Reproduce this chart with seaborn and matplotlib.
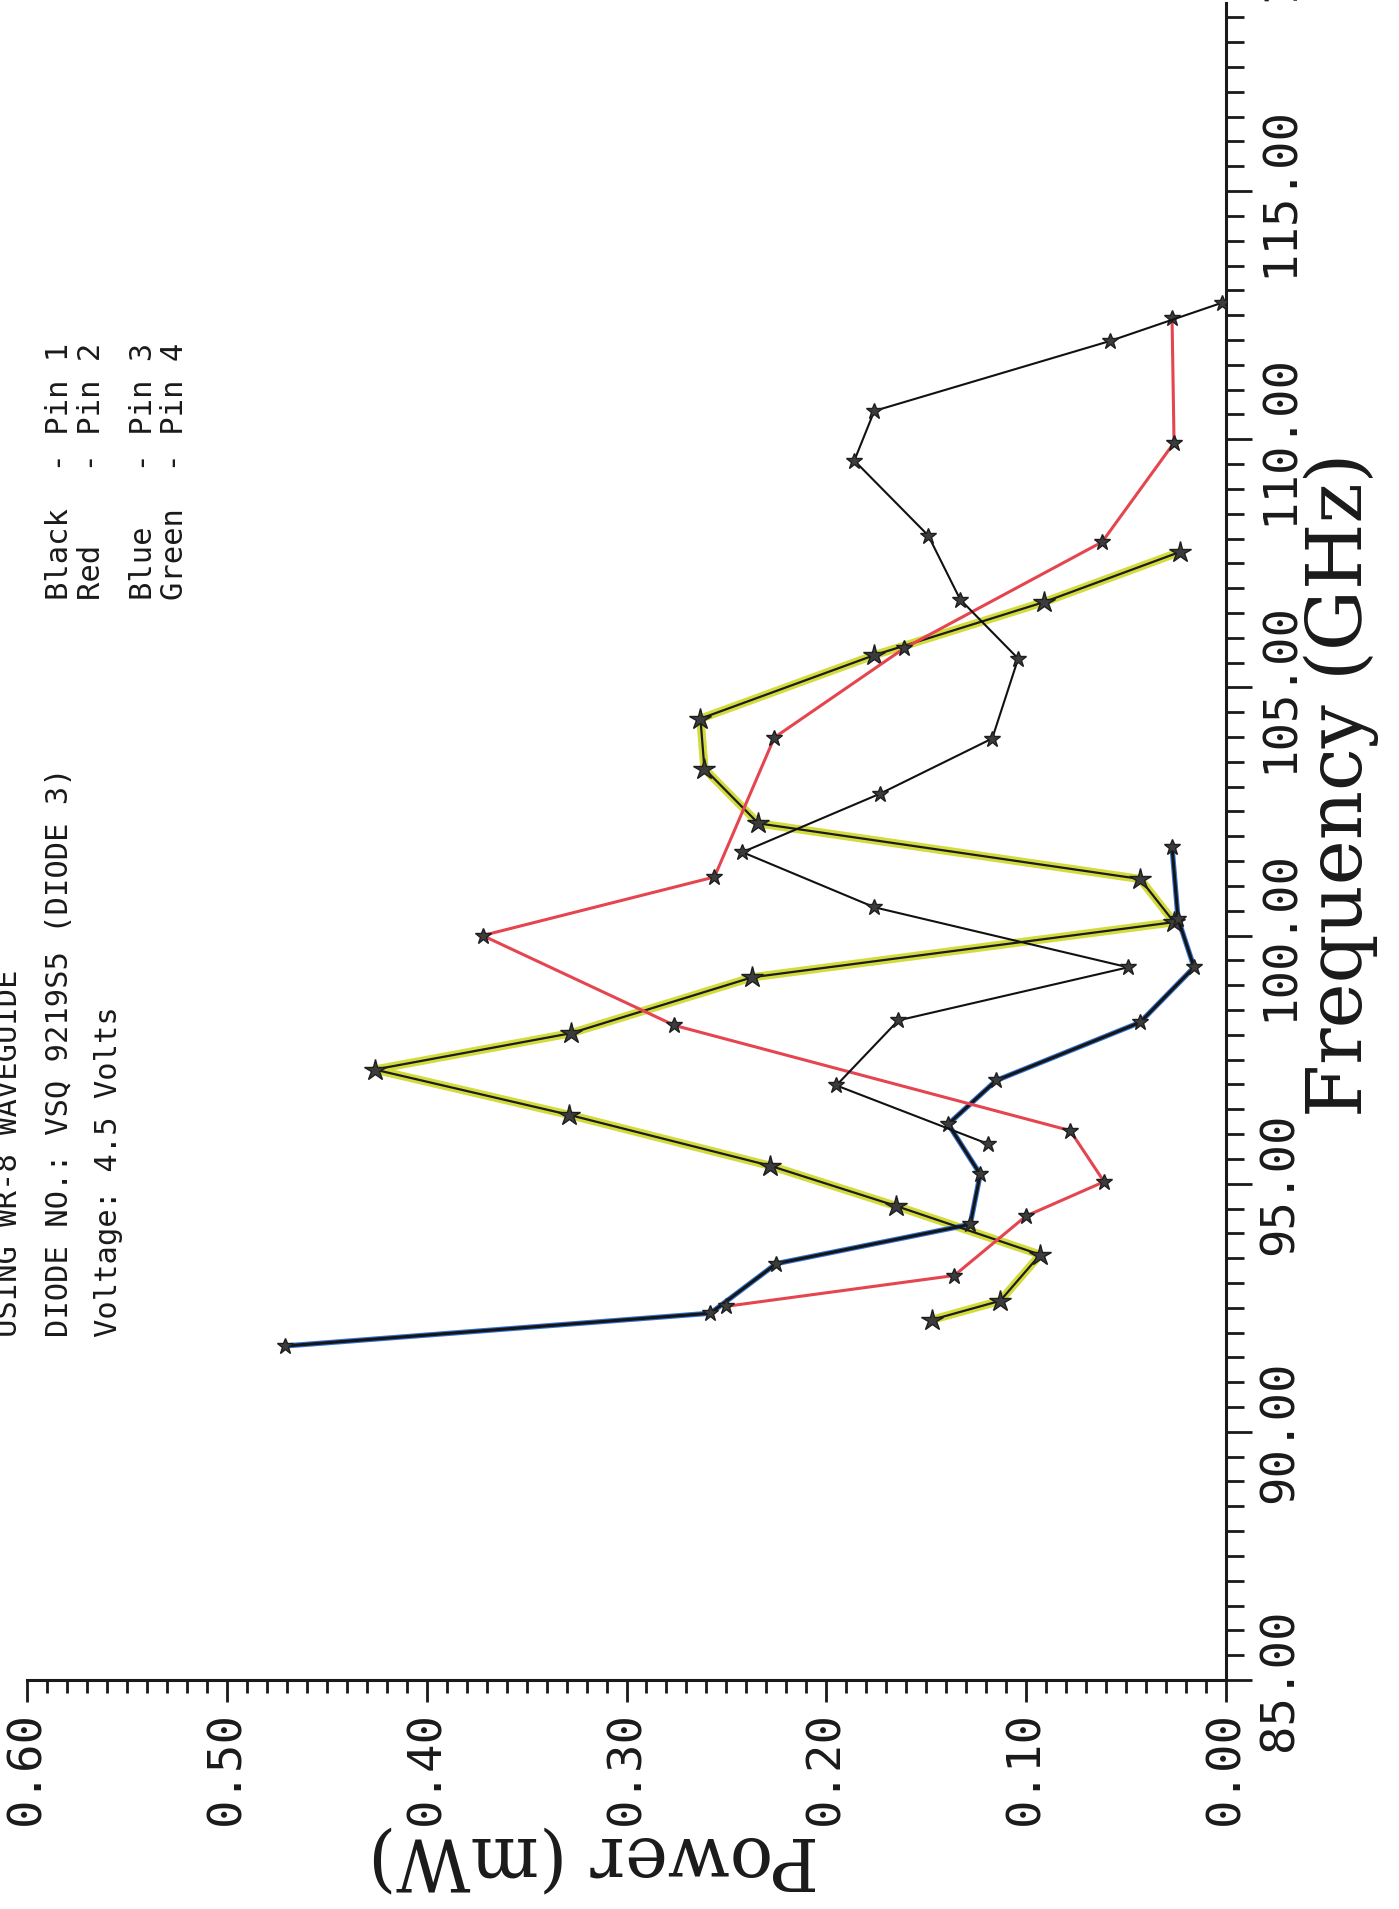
import numpy as np
import pandas as pd
import matplotlib
matplotlib.use("Agg")
import matplotlib.pyplot as plt
import seaborn as sns
from matplotlib.ticker import MultipleLocator
from matplotlib.transforms import blended_transform_factory

# ---------------- data ----------------
pin1_freq = [112.75, 111.98, 110.57, 109.57, 108.06, 106.77, 105.58, 103.97,
             102.86, 101.68, 100.57, 99.36, 98.29, 96.98, 95.80]
pin1_power = [0.002, 0.058, 0.176, 0.186, 0.149, 0.133, 0.104, 0.117,
              0.173, 0.242, 0.176, 0.049, 0.164, 0.195, 0.119]

pin2_freq = [112.45, 109.93, 107.93, 105.79, 103.99, 101.18, 100.00, 98.19,
             96.07, 95.04, 94.35, 93.15, 92.53]
pin2_power = [0.027, 0.026, 0.062, 0.161, 0.226, 0.256, 0.372, 0.276,
              0.078, 0.061, 0.100, 0.136, 0.250]

pin3_freq = [101.78, 100.34, 99.36, 98.25, 97.08, 96.20, 95.19, 94.18,
             93.39, 92.39, 91.73]
pin3_power = [0.027, 0.024, 0.016, 0.043, 0.115, 0.139, 0.123, 0.128,
              0.225, 0.258, 0.471]

pin4_freq = [107.73, 106.72, 105.65, 104.37, 103.36, 102.26, 101.14, 100.27,
             99.16, 98.03, 97.30, 96.39, 95.36, 94.55, 93.57, 92.64, 92.26]
pin4_power = [0.023, 0.091, 0.176, 0.263, 0.261, 0.234, 0.043, 0.026,
              0.237, 0.328, 0.426, 0.329, 0.228, 0.165, 0.093, 0.113, 0.147]

power_ticks = [0.0, 0.1, 0.2, 0.3, 0.4, 0.5, 0.6]
freq_ticks = [85, 90, 95, 100, 105, 110, 115]

header_lines = ["USING WR-8 WAVEGUIDE",
                "DIODE NO.: VSQ 9219S5 (DIODE 3)",
                "Voltage: 4.5 Volts"]
legend_lines = ["Black  - Pin 1", "Red    - Pin 2",
                "Blue   - Pin 3", "Green  - Pin 4"]

# ---------------- style ----------------
sns.set_style("white")
plt.rcParams["font.family"] = ["DejaVu Sans Mono", "DejaVu Sans"]

W, H = 1399, 1909
fig = plt.figure(figsize=(W / 100, H / 100), dpi=100)
fig.patch.set_facecolor("white")

left_px, right_px, bottom_px, top_px = 27, 1226, 1680, 2.5
ax = fig.add_axes([left_px / W, 1 - bottom_px / H,
                   (right_px - left_px) / W, (bottom_px - top_px) / H])
ax.set_facecolor("white")

def frame(freq, power, name):
    return pd.DataFrame({"freq": freq, "power": power, "pin": name})

d1 = frame(pin1_freq, pin1_power, "Pin 1")
d2 = frame(pin2_freq, pin2_power, "Pin 2")
d3 = frame(pin3_freq, pin3_power, "Pin 3")
d4 = frame(pin4_freq, pin4_power, "Pin 4")

common = dict(x="power", y="freq", sort=False, estimator=None, ax=ax, legend=False)
mk = dict(marker="*", markersize=12, markerfacecolor="#3c3c3c",
          markeredgecolor="#1e1e1e", markeredgewidth=1.0)

# Green (Pin 4): yellow-green highlighter under a black pen line
sns.lineplot(data=d4, color="#d3dc3c", linewidth=6.0, zorder=2, **common)
sns.lineplot(data=d4, color="#1c1c1c", linewidth=1.6, zorder=3,
             **{**mk, "markersize": 16}, **common)
# Blue (Pin 3): heavy dark line with blue tint
sns.lineplot(data=d3, color="#3272d2", linewidth=3.8, zorder=2, **common)
sns.lineplot(data=d3, color="#151515", linewidth=2.2, zorder=3, **mk, **common)
# Red (Pin 2)
sns.lineplot(data=d2, color="#e5454f", linewidth=2.2, zorder=3, **mk, **common)
# Black (Pin 1)
sns.lineplot(data=d1, color="#111111", linewidth=1.5, zorder=4, **mk, **common)

# ---------------- axes ----------------
ax.set_xlim(0.6, 0.0)
ax.set_ylim(85, 118.8)
ax.yaxis.tick_right()
for s in ["top", "left"]:
    ax.spines[s].set_visible(False)
for s in ["bottom", "right"]:
    ax.spines[s].set_visible(True)
    ax.spines[s].set_linewidth(2.2)
    ax.spines[s].set_color("#1a1a1a")

tick_font = dict(family="DejaVu Sans Mono", size=34, color="#1a1a1a")
ax.set_xticks(power_ticks, labels=["%.2f" % v for v in power_ticks],
              rotation=90, **tick_font)
ax.set_yticks(freq_ticks, labels=["%.2f" % v for v in freq_ticks],
              rotation=90, va="center", **tick_font)
ax.xaxis.set_minor_locator(MultipleLocator(0.01))
ax.yaxis.set_minor_locator(MultipleLocator(0.5))
ax.tick_params(axis="x", which="major", direction="out", length=16, width=2,
               pad=6, color="#1a1a1a", bottom=True)
ax.tick_params(axis="x", which="minor", direction="out", length=9.5, width=2,
               color="#1a1a1a", bottom=True)
ax.tick_params(axis="y", which="major", direction="out", length=19, width=2,
               pad=4, color="#1a1a1a", right=True, left=False)
ax.tick_params(axis="y", which="minor", direction="out", length=13, width=2,
               color="#1a1a1a", right=True, left=False)
ax.set_xlabel("")
ax.set_ylabel("")
ax.grid(False)

# next frequency label, mostly beyond the top edge of the page (only "1" shows)
trans = blended_transform_factory(ax.transAxes, ax.transData)
ax.text(1 + 32 / (right_px - left_px), 120.55, "120.00", transform=trans,
        rotation=90, ha="left", va="center", clip_on=False, **tick_font)

# axis titles (rotated page)
fig.text(1341 / W, 1 - 785 / H, "Frequency (GHz)", rotation=90,
         ha="center", va="center", family="DejaVu Serif", size=55,
         color="#1a1a1a")
fig.text(594 / W, 1 - 1858 / H, "Power (mW)", rotation=180,
         ha="center", va="center", family="DejaVu Serif", size=52,
         color="#1a1a1a")

# header and legend text
txt = dict(rotation=90, rotation_mode="anchor", ha="left", va="baseline",
           family="DejaVu Sans Mono", size=22, color="#1a1a1a")
for xb, line in zip([17, 68, 117], header_lines):
    fig.text(xb / W, 1 - 1337 / H, line, **txt)
for xb, line in zip([68, 100, 152, 183], legend_lines):
    fig.text(xb / W, 1 - 600 / H, line, **txt)

fig.savefig("out.png", dpi=100, facecolor="white")
